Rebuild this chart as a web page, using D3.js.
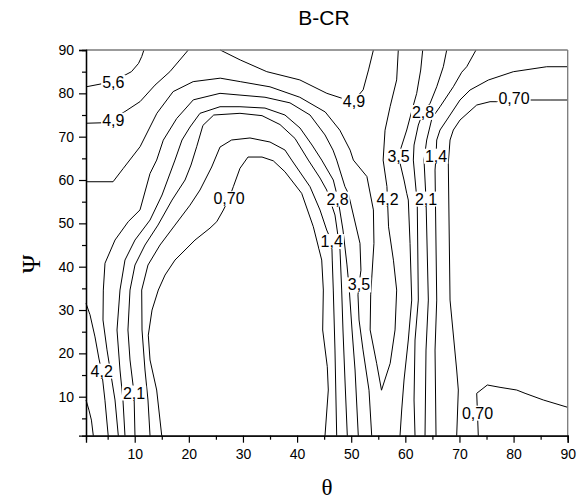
<!DOCTYPE html>
<html><head><meta charset="utf-8">
<script src="https://cdn.jsdelivr.net/npm/d3@7/dist/d3.min.js"></script>
<style>body{margin:0;background:#fff}</style>
</head><body>
<svg id="chart" width="583" height="500"></svg>
<script>
// ---------- data ----------
const chartTitle = "B-CR";
const xLabel = "θ";
const yLabel = "Ψ";
const xTicks = [10,20,30,40,50,60,70,80,90];
const yTicks = [10,20,30,40,50,60,70,80,90];
const minorTicks = [5,15,25,35,45,55,65,75,85];

// contour lines: [theta, psi] points
const c56 = [[1,81.5],[3.9,82.2],[6.0,83.1],[8.2,84.2],[9.4,85.0],[10.7,86.9],[11.3,88.5],[11.7,90]];
const c49a = [[1,73.1],[3.9,73.2],[6.0,74.2],[8.2,75.8],[11.0,78.1],[13.75,81.9],[16.5,85.0],[19.9,90]];
const c49b = [[25.8,90],[29.5,87.7],[34.4,85.0],[40.5,83.1],[45.5,80.0],[48.2,78.9],[50.5,78.3],[52.2,80.8],[53.2,85.4],[54.1,90]];
const c42a = [[1,59.6],[6.0,59.6],[7.9,62.7],[11.0,67.7],[14.1,75.4],[17.1,80.4],[20.8,82.7],[25.8,83.5],[29.5,82.7],[35.0,81.5],[40.5,79.1],[45.2,75.7],[47.9,71.5],[49.8,66.9],[50.4,64.6],[52.9,60.8],[54.1,53.1],[54.2,45.4],[53.6,33.5],[53.5,25.4],[54.7,17.7],[55.6,11.5],[57.2,17.7],[58.1,25.4],[58.4,34.6],[57.8,41.5],[56.9,49.2],[56.7,55.6],[56.6,58.5],[55.9,64.6],[56.25,71.5],[57.2,77.0],[58.4,83.1],[58.7,90]];
const c42b = [[1,31.55],[1.74,28.9],[2.66,23.8],[3.4,18.7],[3.9,15.9],[4.5,9.2],[5.1,1.0]];
const c42c = [[1,9.24],[1.55,6.9],[2.0,4.6],[2.35,1.0]];
const c35a = [[6.97,1.0],[6.36,9.24],[5.62,15.0],[4.88,20.8],[4.14,27.7],[4.2,34.6],[4.51,40.8],[6.36,46.15],[8.81,50.4],[10.98,53.1],[12.83,61.5],[14.06,64.6],[15.28,69.2],[17.76,74.2],[20.83,78.5],[25.76,80.0],[29.45,79.6],[34.07,79.1],[38.69,77.8],[42.39,75.0],[45.16,70.4],[46.64,66.9],[47.32,64.6],[48.85,58.45],[49.47,56.9],[51.62,45.4],[51.8,39.2],[51.44,35.8],[51.25,33.5],[51.45,27.7],[52.18,20.8],[53.29,11.5],[53.79,1.0]];
const c35b = [[63.21,90],[62.84,85.38],[62.1,80.0],[61.24,76.15],[60.26,71.54],[59.2,67.4],[58.74,65.5],[59.02,63.92],[59.76,60.0],[60.26,56.93],[60.55,55.38],[60.87,45.39],[61.18,32.3],[60.55,23.08],[59.76,13.85],[59.33,6.93],[59.02,1.0]];
const c28a = [[8.2,1.0],[7.83,9.24],[7.28,16.16],[6.73,25.39],[7.28,34.61],[8.2,41.53],[10.05,46.15],[12.83,50.76],[15.05,56.54],[17.44,64.6],[18.74,69.23],[20.22,72.23],[22.06,75.39],[25.76,76.91],[29.45,76.91],[34.07,76.6],[37.76,75.0],[40.54,72.0],[42.76,68.07],[44.55,64.6],[46.69,60.0],[47.56,55.61],[48.48,48.46],[49.22,40.4],[49.65,34.61],[50.15,25.39],[50.71,16.16],[51.31,1.0]];
const c28b = [[67.65,90],[67.02,86.14],[65.8,81.52],[64.57,77.69],[63.27,75.6],[62.4,72.69],[61.61,68.07],[61.48,64.6],[61.98,57.69],[62.21,53.84],[62.4,32.3],[61.79,23.08],[61.61,9.24],[61.79,1.0]];
const c21a = [[10.05,1.0],[9.87,10.85],[9.13,18.47],[8.75,25.39],[9.13,34.61],[10.05,40.38],[11.9,45.0],[14.3,49.6],[16.9,55.38],[19.3,60.0],[20.4,63.46],[21.45,67.68],[22.6,72.6],[24.6,75.0],[29.45,75.39],[33.52,74.85],[36.84,72.8],[39.61,69.6],[42.07,64.6],[44.24,60.46],[45.47,57.69],[47.0,51.92],[47.93,43.84],[48.24,34.61],[48.48,25.39],[48.85,13.85],[49.28,1.0]];
const c21b = [[73.06,90],[71.34,86.14],[70.42,84.87],[68.87,81.52],[66.41,76.91],[64.93,74.3],[63.95,69.23],[63.45,64.6],[63.64,60.0],[63.82,55.61],[64.25,32.3],[63.82,20.77],[63.64,1.0]];
const c14a = [[12.83,1.0],[12.45,9.24],[11.9,16.16],[11.35,25.39],[11.29,34.61],[12.45,40.38],[14.67,45.0],[17.44,49.6],[20.22,54.2],[22.06,57.69],[24.22,63.0],[25.76,67.6],[27.9,69.23],[31.3,69.7],[34.99,68.77],[37.76,66.92],[39.0,64.6],[42.39,58.45],[44.24,53.07],[45.47,48.46],[46.4,45.8],[46.5,41.53],[46.69,34.61],[47.0,20.77],[47.32,1.0]];
const c14b = [[90,86.14],[86.12,86.14],[79.95,84.99],[75.33,83.07],[71.95,80.76],[70.1,78.46],[67.65,73.84],[66.41,71.54],[65.8,69.23],[65.67,65.5],[65.49,62.3],[65.8,32.3],[65.49,20.77],[65.67,1.0]];
const c07a = [[14.99,1.0],[14.06,11.54],[12.83,18.47],[12.51,24.2],[13.2,29.99],[14.36,34.61],[15.6,38.07],[17.44,41.53],[21.14,46.15],[23.91,48.9],[25.16,50.38],[26.38,53.07],[27.42,55.7],[28.22,58.45],[29.45,62.7],[30.93,65.3],[33.52,65.3],[35.6,64.43],[37.76,61.9],[40.85,56.93],[43.0,49.22],[44.55,41.53],[44.85,34.61],[44.73,25.39],[45.58,16.92],[45.77,11.54],[45.16,1.0]];
const c07b = [[90,78.46],[86.74,78.46],[83.0,78.46],[80.08,78.7],[76.88,78.07],[75.65,78.07],[73.19,77.3],[70.1,73.84],[68.87,71.54],[68.26,69.23],[67.94,63.92],[68.26,32.3],[69.49,16.16],[69.79,11.54],[69.49,1.0]];
const c07c = [[73.48,1.0],[73.33,6.2],[73.19,10.78],[75.15,12.7],[77.5,12.16],[80.58,11.54],[82.12,10.78],[85.5,9.24],[90,7.55]];

const contourLines = [c56, c49a, c49b, c42a, c42b, c42c, c35a, c35b, c28a, c28b, c21a, c21b, c14a, c14b, c07a, c07b, c07c];

// contour labels: [text, theta, psi]
const labelText = ["5,6","4,9","4,9","2,8","0,70","3,5","1,4","0,70","2,8","4,2","2,1","1,4","3,5","4,2","2,1","0,70"];
const labelTheta = [6.04,6.04,50.5,63.27,80.08,58.74,65.67,27.42,47.47,56.71,63.82,46.4,51.44,3.9,9.87,73.33];
const labelPsi = [82.5,73.8,78.1,75.6,78.7,65.5,65.5,55.7,55.6,55.6,55.6,45.8,35.8,15.9,10.85,6.2];

// ---------- drawing ----------
const svg = d3.select("#chart");
const x = d3.scaleLinear().domain([1,90]).range([86,567.7]);
const y = d3.scaleLinear().domain([1,90]).range([435.7,50]);

// contour lines
const line = d3.line().x(d=>x(d[0])).y(d=>y(d[1]));
svg.append("g").selectAll("path").data(contourLines).join("path")
  .attr("d", line).attr("fill","none").attr("stroke","#000").attr("stroke-width",1);

// labels with white boxes
const lg = svg.append("g");
labelText.forEach((t,i)=>{
  const g = lg.append("g");
  const txt = g.append("text").attr("x", x(labelTheta[i])).attr("y", y(labelPsi[i]))
    .attr("text-anchor","middle").attr("dominant-baseline","central")
    .style("font-family","Arial, 'Liberation Sans', sans-serif").style("font-size","16px").text(t);
  const b = txt.node().getBBox();
  g.insert("rect","text").attr("x",b.x-1).attr("y",b.y+1).attr("width",b.width+2).attr("height",b.height-2).attr("fill","#fff");
});

// frame top/right (grey)
svg.append("line").attr("x1",x(1)).attr("x2",x(90)).attr("y1",y(90)).attr("y2",y(90)).attr("stroke","#7a7a7a").attr("stroke-width",1.3);
svg.append("line").attr("x1",x(90)).attr("x2",x(90)).attr("y1",y(90)).attr("y2",y(1)).attr("stroke","#7a7a7a").attr("stroke-width",1.3);

const font = "Arial, 'Liberation Sans', sans-serif";
// x axis
svg.append("g").attr("transform",`translate(0,${y(1)})`)
  .call(d3.axisBottom(x).tickValues(xTicks).tickSize(7).tickPadding(6).tickFormat(d3.format("d")));
svg.append("g").attr("transform",`translate(0,${y(1)})`)
  .call(d3.axisBottom(x).tickValues(minorTicks).tickSize(4).tickFormat(""));
// y axis
svg.append("g").attr("transform",`translate(${x(1)},0)`)
  .call(d3.axisLeft(y).tickValues(yTicks).tickSize(7).tickPadding(5).tickFormat(d3.format("d")));
svg.append("g").attr("transform",`translate(${x(1)},0)`)
  .call(d3.axisLeft(y).tickValues(minorTicks).tickSize(4).tickFormat(""));
svg.selectAll(".tick line").attr("stroke","#000").attr("stroke-width",1.2);
svg.selectAll(".domain").attr("stroke","#000").attr("stroke-width",1.3);
svg.selectAll(".tick text").style("font-family",font).style("font-size","14px").attr("fill","#000");

// titles
svg.append("text").attr("x",324).attr("y",24.5).attr("text-anchor","middle")
  .style("font-family",font).style("font-size","21px").text(chartTitle);
svg.append("text").attr("x",327).attr("y",495).attr("text-anchor","middle")
  .style("font-family","'Liberation Serif','DejaVu Serif',serif").style("font-size","23px").text(xLabel);
svg.append("text").attr("transform","translate(40,264) rotate(-90)").attr("text-anchor","middle")
  .style("font-family","'Liberation Serif','DejaVu Serif',serif").style("font-size","25px").text(yLabel);
</script>
</body></html>
